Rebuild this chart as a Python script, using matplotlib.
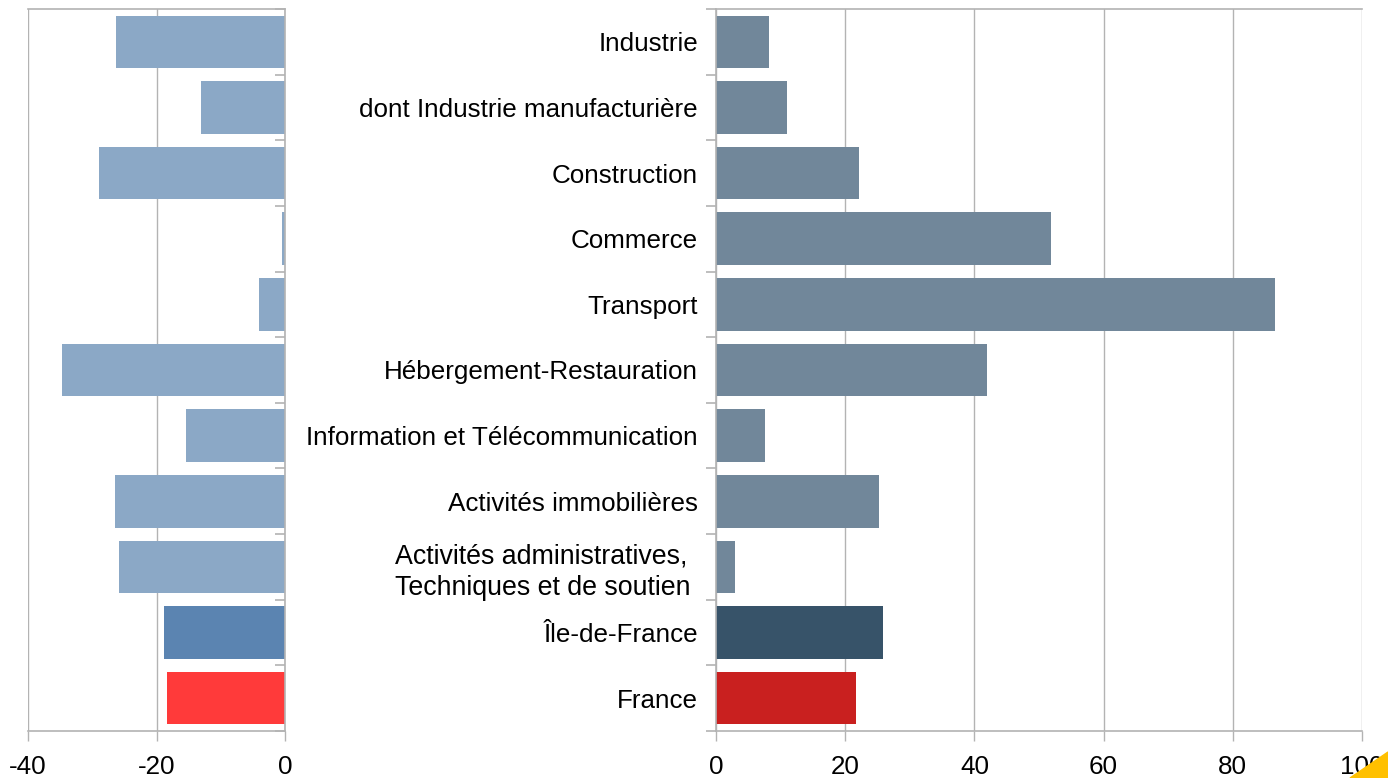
import matplotlib.pyplot as plt
from matplotlib.patches import Polygon
import numpy as np

plt.rcParams['font.family'] = ['Liberation Sans', 'DejaVu Sans']

# secteurs (haut -> bas)
secteurs = ["Industrie",
            "dont Industrie manufacturière",
            "Construction",
            "Commerce",
            "Transport",
            "Hébergement-Restauration",
            "Information et Télécommunication",
            "Activités immobilières",
            "Activités administratives,\nTechniques et de soutien ",
            "Île-de-France",
            "France"]

# valeurs
gauche = [-26.3, -13.1, -28.9, -0.5, -4.0, -34.7, -15.4, -26.4, -25.8, -18.8, -18.4]
droite = [8.2, 11.0, 22.1, 51.9, 86.5, 42.0, 7.6, 25.2, 2.9, 25.9, 21.7]

coul_g = ['#8ba8c6'] * 9 + ['#5b84b1', '#ff3a3a']
coul_d = ['#71879a'] * 9 + ['#375369', '#c9201f']

grille = '#b3b3b3'
fs = 18.7

fig = plt.figure(figsize=(13.88, 7.78), dpi=100)
ax1 = fig.add_axes([28/1388, 1-731/778, 257/1388, 722/778])
ax2 = fig.add_axes([716/1388, 1-731/778, 646/1388, 722/778])

y = np.arange(len(secteurs))

ax1.barh(y, gauche, height=0.8, color=coul_g, zorder=2)
ax2.barh(y, droite, height=0.8, color=coul_d, zorder=2)

for ax, lim, ticks in [(ax1, (-40, 0), [-40, -20, 0]), (ax2, (0, 100), [0, 20, 40, 60, 80, 100])]:
    ax.set_xlim(*lim)
    ax.set_ylim(len(secteurs) - 0.5, -0.5)
    ax.set_xticks(ticks)
    ax.set_xticklabels([str(t) for t in ticks], fontsize=fs)
    ax.grid(axis='x', color=grille, linewidth=1, zorder=0)
    for s in ['left', 'right', 'top', 'bottom']:
        ax.spines[s].set_color(grille)
        ax.spines[s].set_linewidth(1.2)
    ax.tick_params(axis='x', length=7, width=1, color=grille, pad=10.5)
    ax.set_yticks(np.arange(-0.5, len(secteurs)), minor=True)
    ax.tick_params(axis='y', which='minor', length=7.5, width=1.2, color=grille)

# panneau gauche : axe des catégories à droite
ax1.spines['left'].set_visible(False)
ax1.yaxis.tick_right()
ax1.set_yticks([])
ax1.set_yticks(np.arange(-0.5, len(secteurs)), minor=True)
ax1.tick_params(axis='y', which='minor', direction='in', length=7.5, width=1.2, color=grille,
                right=True, left=False)

# panneau droit : libellés
ax2.spines['right'].set_visible(False)
ax2.set_yticks(y)
ax2.set_yticklabels(secteurs, fontsize=fs)
ax2.tick_params(axis='y', which='major', length=0, pad=13)
lab = ax2.get_yticklabels()[8]
lab.set_multialignment('left')
lab.set_linespacing(1.25)
lab.set_fontsize(19.3)

# petit coin jaune
fig.patches.append(Polygon([[1, 0], [1, 26/778], [1-38/1388, 0]], closed=True,
                           transform=fig.transFigure, color='#ffc000', zorder=10))

plt.savefig('out.png', dpi=100)
